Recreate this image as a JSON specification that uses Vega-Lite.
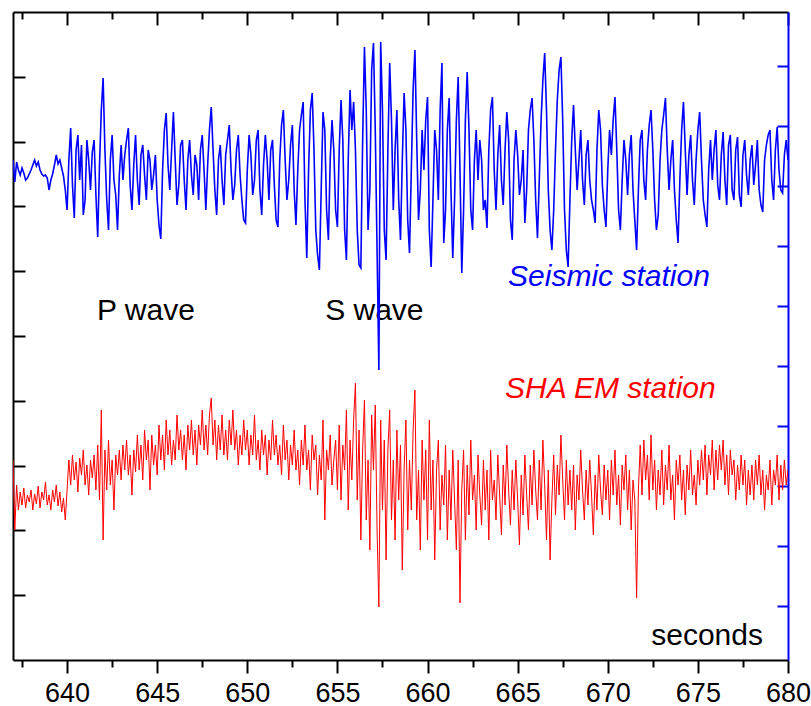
{
  "$schema": "https://vega.github.io/schema/vega-lite/v6.json",
  "width": 775,
  "height": 648,
  "autosize": {"type": "none"},
  "padding": {"left": 13, "top": 12, "right": 23, "bottom": 46},
  "background": "white",
  "config": {"view": {"stroke": null}, "font": "Liberation Sans"},
  "datasets": {
    "wave": [
{"t":637.0,"s":10,"e":20},{"t":637.1,"s":-12,"e":-50},{"t":637.2,"s":8,"e":-5},{"t":637.3,"s":0,"e":-30},{"t":637.4,"s":-5,"e":-12},{"t":637.5,"s":2,"e":-25},{"t":637.6,"s":-3,"e":-8},{"t":637.7,"s":-10,"e":-28},{"t":637.8,"s":-8,"e":-15},{"t":637.9,"s":-4,"e":-22},
{"t":638.0,"s":0,"e":-10},{"t":638.1,"s":5,"e":-30},{"t":638.2,"s":10,"e":-14},{"t":638.3,"s":4,"e":-24},{"t":638.4,"s":8,"e":-6},{"t":638.5,"s":0,"e":-28},{"t":638.6,"s":-4,"e":-12},{"t":638.7,"s":-6,"e":-20},{"t":638.8,"s":-5,"e":-2},{"t":638.9,"s":-8,"e":-25},
{"t":639.0,"s":-20,"e":-15},{"t":639.1,"s":-10,"e":-30},{"t":639.2,"s":-4,"e":-10},{"t":639.3,"s":5,"e":-22},{"t":639.4,"s":15,"e":-5},{"t":639.5,"s":6,"e":-26},{"t":639.6,"s":10,"e":-12},{"t":639.7,"s":2,"e":-32},{"t":639.8,"s":-6,"e":-18},{"t":639.9,"s":-20,"e":-40},
{"t":640.0,"s":-40,"e":-10},{"t":640.1,"s":10,"e":20},{"t":640.2,"s":42,"e":-5},{"t":640.3,"s":-15,"e":25},{"t":640.4,"s":-48,"e":0},{"t":640.5,"s":20,"e":18},{"t":640.6,"s":35,"e":-12},{"t":640.7,"s":-10,"e":22},{"t":640.8,"s":25,"e":5},{"t":640.9,"s":-45,"e":30},
{"t":641.0,"s":-30,"e":-5},{"t":641.1,"s":30,"e":15},{"t":641.2,"s":10,"e":-15},{"t":641.3,"s":-20,"e":20},{"t":641.4,"s":18,"e":2},{"t":641.5,"s":30,"e":25},{"t":641.6,"s":-25,"e":-10},{"t":641.7,"s":-67,"e":35},{"t":641.8,"s":5,"e":-20},{"t":641.9,"s":60,"e":70},
{"t":642.0,"s":92,"e":-60},{"t":642.1,"s":20,"e":30},{"t":642.2,"s":-30,"e":-10},{"t":642.3,"s":-60,"e":40},{"t":642.4,"s":10,"e":-5},{"t":642.5,"s":35,"e":20},{"t":642.6,"s":-10,"e":-30},{"t":642.7,"s":-25,"e":25},{"t":642.8,"s":-60,"e":5},{"t":642.9,"s":-5,"e":30},
{"t":643.0,"s":25,"e":0},{"t":643.1,"s":-10,"e":35},{"t":643.2,"s":15,"e":10},{"t":643.3,"s":30,"e":40},{"t":643.4,"s":42,"e":5},{"t":643.5,"s":-15,"e":25},{"t":643.6,"s":-40,"e":-15},{"t":643.7,"s":5,"e":30},{"t":643.8,"s":35,"e":8},{"t":643.9,"s":-10,"e":45},
{"t":644.0,"s":-35,"e":10},{"t":644.1,"s":15,"e":35},{"t":644.2,"s":25,"e":0},{"t":644.3,"s":-5,"e":50},{"t":644.4,"s":-30,"e":20},{"t":644.5,"s":20,"e":40},{"t":644.6,"s":10,"e":-10},{"t":644.7,"s":-20,"e":45},{"t":644.8,"s":-5,"e":15},{"t":644.9,"s":15,"e":35},
{"t":645.0,"s":-30,"e":5},{"t":645.1,"s":-55,"e":55},{"t":645.2,"s":-69,"e":20},{"t":645.3,"s":0,"e":45},{"t":645.4,"s":40,"e":10},{"t":645.5,"s":57,"e":60},{"t":645.6,"s":5,"e":25},{"t":645.7,"s":-20,"e":50},{"t":645.8,"s":20,"e":15},{"t":645.9,"s":58,"e":40},
{"t":646.0,"s":10,"e":20},{"t":646.1,"s":-35,"e":65},{"t":646.2,"s":-15,"e":30},{"t":646.3,"s":25,"e":50},{"t":646.4,"s":30,"e":20},{"t":646.5,"s":-10,"e":45},{"t":646.6,"s":-40,"e":10},{"t":646.7,"s":10,"e":55},{"t":646.8,"s":30,"e":30},{"t":646.9,"s":-5,"e":60},
{"t":647.0,"s":-25,"e":25},{"t":647.1,"s":15,"e":50},{"t":647.2,"s":5,"e":15},{"t":647.3,"s":-30,"e":55},{"t":647.4,"s":20,"e":35},{"t":647.5,"s":35,"e":70},{"t":647.6,"s":0,"e":30},{"t":647.7,"s":-40,"e":55},{"t":647.8,"s":5,"e":25},{"t":647.9,"s":40,"e":65},
{"t":648.0,"s":63,"e":82},{"t":648.1,"s":20,"e":35},{"t":648.2,"s":-20,"e":60},{"t":648.3,"s":-45,"e":20},{"t":648.4,"s":10,"e":55},{"t":648.5,"s":25,"e":30},{"t":648.6,"s":-10,"e":65},{"t":648.7,"s":-35,"e":25},{"t":648.8,"s":15,"e":50},{"t":648.9,"s":30,"e":20},
{"t":649.0,"s":45,"e":60},{"t":649.1,"s":0,"e":35},{"t":649.2,"s":-30,"e":70},{"t":649.3,"s":-15,"e":30},{"t":649.4,"s":20,"e":50},{"t":649.5,"s":35,"e":15},{"t":649.6,"s":-5,"e":45},{"t":649.7,"s":-30,"e":25},{"t":649.8,"s":-50,"e":60},{"t":649.9,"s":-53,"e":30},
{"t":650.0,"s":0,"e":50},{"t":650.1,"s":35,"e":15},{"t":650.2,"s":15,"e":45},{"t":650.3,"s":-25,"e":25},{"t":650.4,"s":-10,"e":65},{"t":650.5,"s":30,"e":20},{"t":650.6,"s":40,"e":40},{"t":650.7,"s":-20,"e":10},{"t":650.8,"s":-45,"e":50},{"t":650.9,"s":5,"e":25},
{"t":651.0,"s":35,"e":45},{"t":651.1,"s":10,"e":5},{"t":651.2,"s":-30,"e":40},{"t":651.3,"s":20,"e":20},{"t":651.4,"s":30,"e":60},{"t":651.5,"s":-15,"e":25},{"t":651.6,"s":-50,"e":45},{"t":651.7,"s":-57,"e":15},{"t":651.8,"s":10,"e":35},{"t":651.9,"s":45,"e":5},
{"t":652.0,"s":60,"e":55},{"t":652.1,"s":10,"e":20},{"t":652.2,"s":-30,"e":40},{"t":652.3,"s":-10,"e":0},{"t":652.4,"s":25,"e":35},{"t":652.5,"s":45,"e":15},{"t":652.6,"s":-20,"e":50},{"t":652.7,"s":-55,"e":10},{"t":652.8,"s":0,"e":30},{"t":652.9,"s":40,"e":-5},
{"t":653.0,"s":55,"e":40},{"t":653.1,"s":68,"e":15},{"t":653.2,"s":-30,"e":55},{"t":653.3,"s":-88,"e":10},{"t":653.4,"s":0,"e":30},{"t":653.5,"s":60,"e":-10},{"t":653.6,"s":77,"e":45},{"t":653.7,"s":20,"e":20},{"t":653.8,"s":-60,"e":35},{"t":653.9,"s":-85,"e":-15},
{"t":654.0,"s":-100,"e":25},{"t":654.1,"s":-20,"e":0},{"t":654.2,"s":58,"e":60},{"t":654.3,"s":40,"e":-40},{"t":654.4,"s":-40,"e":30},{"t":654.5,"s":-70,"e":10},{"t":654.6,"s":10,"e":45},{"t":654.7,"s":50,"e":-5},{"t":654.8,"s":20,"e":20},{"t":654.9,"s":-40,"e":40},
{"t":655.0,"s":-57,"e":-10},{"t":655.1,"s":20,"e":55},{"t":655.2,"s":70,"e":-20},{"t":655.3,"s":30,"e":35},{"t":655.4,"s":-60,"e":10},{"t":655.5,"s":-90,"e":70},{"t":655.6,"s":10,"e":-30},{"t":655.7,"s":80,"e":40},{"t":655.8,"s":40,"e":0},{"t":655.9,"s":68,"e":60},
{"t":656.0,"s":20,"e":97},{"t":656.1,"s":-60,"e":-20},{"t":656.2,"s":-95,"e":50},{"t":656.3,"s":-98,"e":-60},{"t":656.4,"s":30,"e":30},{"t":656.5,"s":123,"e":80},{"t":656.6,"s":60,"e":-40},{"t":656.7,"s":-60,"e":20},{"t":656.8,"s":-20,"e":-70},{"t":656.9,"s":100,"e":65},
{"t":657.0,"s":127,"e":10},{"t":657.1,"s":40,"e":75},{"t":657.2,"s":-80,"e":-50},{"t":657.3,"s":-200,"e":-127},{"t":657.4,"s":128,"e":60},{"t":657.5,"s":60,"e":-30},{"t":657.6,"s":-60,"e":40},{"t":657.7,"s":-90,"e":-80},{"t":657.8,"s":20,"e":30},{"t":657.9,"s":107,"e":70},
{"t":658.0,"s":50,"e":-40},{"t":658.1,"s":-40,"e":20},{"t":658.2,"s":20,"e":-60},{"t":658.3,"s":60,"e":50},{"t":658.4,"s":-30,"e":-20},{"t":658.5,"s":-70,"e":35},{"t":658.6,"s":10,"e":-90},{"t":658.7,"s":77,"e":10},{"t":658.8,"s":40,"e":60},{"t":658.9,"s":-50,"e":-50},
{"t":659.0,"s":-83,"e":20},{"t":659.1,"s":0,"e":-30},{"t":659.2,"s":80,"e":50},{"t":659.3,"s":120,"e":90},{"t":659.4,"s":30,"e":-40},{"t":659.5,"s":-50,"e":10},{"t":659.6,"s":-20,"e":-70},{"t":659.7,"s":40,"e":40},{"t":659.8,"s":0,"e":-20},{"t":659.9,"s":50,"e":30},
{"t":660.0,"s":73,"e":-60},{"t":660.1,"s":-60,"e":60},{"t":660.2,"s":-97,"e":-30},{"t":660.3,"s":-30,"e":20},{"t":660.4,"s":40,"e":-80},{"t":660.5,"s":20,"e":10},{"t":660.6,"s":-30,"e":40},{"t":660.7,"s":60,"e":-50},{"t":660.8,"s":107,"e":5},{"t":660.9,"s":-73,"e":-25},
{"t":661.0,"s":-40,"e":35},{"t":661.1,"s":40,"e":-60},{"t":661.2,"s":72,"e":10},{"t":661.3,"s":-20,"e":-40},{"t":661.4,"s":-88,"e":30},{"t":661.5,"s":-30,"e":-20},{"t":661.6,"s":50,"e":-70},{"t":661.7,"s":93,"e":20},{"t":661.8,"s":0,"e":-123},{"t":661.9,"s":-103,"e":-10},
{"t":662.0,"s":-40,"e":30},{"t":662.1,"s":50,"e":-60},{"t":662.2,"s":98,"e":15},{"t":662.3,"s":40,"e":-35},{"t":662.4,"s":-40,"e":40},{"t":662.5,"s":-60,"e":-20},{"t":662.6,"s":10,"e":5},{"t":662.7,"s":40,"e":-50},{"t":662.8,"s":-10,"e":25},{"t":662.9,"s":30,"e":-15},
{"t":663.0,"s":10,"e":-45},{"t":663.1,"s":-40,"e":20},{"t":663.2,"s":-30,"e":-30},{"t":663.3,"s":-58,"e":10},{"t":663.4,"s":20,"e":-60},{"t":663.5,"s":60,"e":30},{"t":663.6,"s":73,"e":-20},{"t":663.7,"s":0,"e":0},{"t":663.8,"s":-40,"e":-40},{"t":663.9,"s":15,"e":25},
{"t":664.0,"s":45,"e":-15},{"t":664.1,"s":-10,"e":-55},{"t":664.2,"s":-35,"e":15},{"t":664.3,"s":20,"e":-25},{"t":664.4,"s":58,"e":35},{"t":664.5,"s":30,"e":-10},{"t":664.6,"s":-50,"e":-45},{"t":664.7,"s":-70,"e":10},{"t":664.8,"s":10,"e":-30},{"t":664.9,"s":40,"e":20},
{"t":665.0,"s":15,"e":-20},{"t":665.1,"s":-25,"e":-65},{"t":665.2,"s":-10,"e":5},{"t":665.3,"s":20,"e":-35},{"t":665.4,"s":-53,"e":25},{"t":665.5,"s":-20,"e":-15},{"t":665.6,"s":40,"e":-50},{"t":665.7,"s":60,"e":15},{"t":665.8,"s":72,"e":-25},{"t":665.9,"s":30,"e":30},
{"t":666.0,"s":-30,"e":-10},{"t":666.1,"s":-68,"e":-40},{"t":666.2,"s":-10,"e":20},{"t":666.3,"s":50,"e":-30},{"t":666.4,"s":90,"e":40},{"t":666.5,"s":117,"e":-5},{"t":666.6,"s":60,"e":-60},{"t":666.7,"s":-20,"e":10},{"t":666.8,"s":-60,"e":-80},{"t":666.9,"s":-80,"e":-20},
{"t":667.0,"s":-40,"e":25},{"t":667.1,"s":20,"e":-35},{"t":667.2,"s":70,"e":15},{"t":667.3,"s":100,"e":-15},{"t":667.4,"s":113,"e":45},{"t":667.5,"s":50,"e":0},{"t":667.6,"s":-40,"e":-40},{"t":667.7,"s":-80,"e":20},{"t":667.8,"s":-97,"e":-25},{"t":667.9,"s":-30,"e":10},
{"t":668.0,"s":30,"e":-30},{"t":668.1,"s":65,"e":15},{"t":668.2,"s":20,"e":-50},{"t":668.3,"s":-20,"e":5},{"t":668.4,"s":10,"e":-20},{"t":668.5,"s":40,"e":30},{"t":668.6,"s":-10,"e":-10},{"t":668.7,"s":-35,"e":-40},{"t":668.8,"s":15,"e":10},{"t":668.9,"s":30,"e":-25},
{"t":669.0,"s":-10,"e":20},{"t":669.1,"s":-30,"e":-15},{"t":669.2,"s":-40,"e":-55},{"t":669.3,"s":-53,"e":5},{"t":669.4,"s":20,"e":-30},{"t":669.5,"s":60,"e":25},{"t":669.6,"s":40,"e":-10},{"t":669.7,"s":-15,"e":-35},{"t":669.8,"s":-40,"e":15},{"t":669.9,"s":-57,"e":-20},
{"t":670.0,"s":0,"e":10},{"t":670.1,"s":40,"e":-40},{"t":670.2,"s":15,"e":20},{"t":670.3,"s":50,"e":-15},{"t":670.4,"s":73,"e":30},{"t":670.5,"s":20,"e":-25},{"t":670.6,"s":-40,"e":5},{"t":670.7,"s":-60,"e":-45},{"t":670.8,"s":-10,"e":15},{"t":670.9,"s":30,"e":-10},
{"t":671.0,"s":10,"e":25},{"t":671.1,"s":-25,"e":-30},{"t":671.2,"s":15,"e":10},{"t":671.3,"s":35,"e":-50},{"t":671.4,"s":-20,"e":0},{"t":671.5,"s":-50,"e":-20},{"t":671.6,"s":-80,"e":-118},{"t":671.7,"s":-20,"e":-10},{"t":671.8,"s":30,"e":35},{"t":671.9,"s":40,"e":-15},
{"t":672.0,"s":-10,"e":40},{"t":672.1,"s":-30,"e":0},{"t":672.2,"s":20,"e":25},{"t":672.3,"s":45,"e":-20},{"t":672.4,"s":60,"e":45},{"t":672.5,"s":20,"e":-10},{"t":672.6,"s":-30,"e":20},{"t":672.7,"s":-60,"e":-30},{"t":672.8,"s":-45,"e":10},{"t":672.9,"s":10,"e":-15},
{"t":673.0,"s":40,"e":30},{"t":673.1,"s":55,"e":-25},{"t":673.2,"s":72,"e":15},{"t":673.3,"s":20,"e":-10},{"t":673.4,"s":-20,"e":35},{"t":673.5,"s":10,"e":-20},{"t":673.6,"s":30,"e":5},{"t":673.7,"s":-20,"e":-40},{"t":673.8,"s":-50,"e":20},{"t":673.9,"s":-73,"e":-5},
{"t":674.0,"s":-10,"e":25},{"t":674.1,"s":40,"e":-20},{"t":674.2,"s":68,"e":10},{"t":674.3,"s":20,"e":-35},{"t":674.4,"s":-25,"e":15},{"t":674.5,"s":15,"e":-10},{"t":674.6,"s":35,"e":30},{"t":674.7,"s":-10,"e":-15},{"t":674.8,"s":-35,"e":5},{"t":674.9,"s":10,"e":-25},
{"t":675.0,"s":40,"e":20},{"t":675.1,"s":58,"e":-5},{"t":675.2,"s":10,"e":30},{"t":675.3,"s":-30,"e":0},{"t":675.4,"s":-45,"e":35},{"t":675.5,"s":-57,"e":-15},{"t":675.6,"s":0,"e":25},{"t":675.7,"s":30,"e":5},{"t":675.8,"s":-10,"e":40},{"t":675.9,"s":20,"e":-10},
{"t":676.0,"s":40,"e":30},{"t":676.1,"s":-15,"e":0},{"t":676.2,"s":-30,"e":35},{"t":676.3,"s":15,"e":10},{"t":676.4,"s":38,"e":40},{"t":676.5,"s":-10,"e":-5},{"t":676.6,"s":-35,"e":25},{"t":676.7,"s":25,"e":-15},{"t":676.8,"s":35,"e":30},{"t":676.9,"s":-20,"e":5},
{"t":677.0,"s":-30,"e":20},{"t":677.1,"s":20,"e":-20},{"t":677.2,"s":33,"e":15},{"t":677.3,"s":-25,"e":-10},{"t":677.4,"s":-37,"e":25},{"t":677.5,"s":15,"e":-5},{"t":677.6,"s":30,"e":20},{"t":677.7,"s":-5,"e":-25},{"t":677.8,"s":-25,"e":10},{"t":677.9,"s":10,"e":-15},
{"t":678.0,"s":25,"e":15},{"t":678.1,"s":-15,"e":-20},{"t":678.2,"s":5,"e":20},{"t":678.3,"s":30,"e":-5},{"t":678.4,"s":-20,"e":25},{"t":678.5,"s":-35,"e":-15},{"t":678.6,"s":-42,"e":10},{"t":678.7,"s":10,"e":-30},{"t":678.8,"s":25,"e":5},{"t":678.9,"s":35,"e":-10},
{"t":679.0,"s":40,"e":20},{"t":679.1,"s":-10,"e":-25},{"t":679.2,"s":-30,"e":10},{"t":679.3,"s":20,"e":-5},{"t":679.4,"s":43,"e":25},{"t":679.5,"s":0,"e":-20},{"t":679.6,"s":-20,"e":15},{"t":679.7,"s":-23,"e":-10},{"t":679.8,"s":15,"e":20},{"t":679.9,"s":30,"e":-5},
{"t":680.0,"s":10,"e":10}
    ]
  },
  "resolve": {"scale": {"y": "independent"}, "axis": {"x": "independent", "y": "independent"}},
  "layer": [
    {
      "data": {"values": [{"label": "P wave", "t": 641.66, "e": 160}, {"label": "S wave", "t": 654.32, "e": 160}, {"label": "seconds", "t": 678.61, "e": -165}]},
      "transform": [{"filter": "datum.label !== 'seconds'"}],
      "mark": {"type": "text", "align": "left", "baseline": "alphabetic", "fontSize": 30, "font": "Liberation Sans", "color": "black"},
      "encoding": {
        "x": {"field": "t", "type": "quantitative", "scale": {"domain": [637, 680], "nice": false, "zero": false},
              "axis": {"orient": "top", "values": [640, 645, 650, 655, 660, 665, 670, 675, 680], "tickSize": -13, "tickWidth": 2, "tickColor": "black", "labels": false, "domain": true, "domainColor": "black", "domainWidth": 2, "grid": false, "title": null}},
        "y": {"field": "e", "type": "quantitative", "scale": {"domain": [-180, 468], "nice": false, "zero": false}, "axis": null},
        "text": {"field": "label"}
      }
    },
    {
      "data": {"values": [{"label": "seconds", "t": 678.61, "e": -165}]},
      "mark": {"type": "text", "align": "right", "baseline": "alphabetic", "fontSize": 30, "font": "Liberation Sans", "color": "black"},
      "encoding": {
        "x": {"field": "t", "type": "quantitative", "scale": {"domain": [637, 680], "nice": false, "zero": false},
              "axis": {"orient": "top", "values": [637.5, 642.5, 647.5, 652.5, 657.5, 662.5, 667.5, 672.5, 677.5], "tickSize": -7, "tickWidth": 2, "tickColor": "black", "labels": false, "domain": false, "grid": false, "title": null}},
        "y": {"field": "e", "type": "quantitative", "scale": {"domain": [-180, 468], "nice": false, "zero": false}, "axis": null},
        "text": {"field": "label"}
      }
    },
    {
      "data": {"values": [{"label": "Seismic station", "t": 664.47, "e": 194}]},
      "mark": {"type": "text", "align": "left", "baseline": "alphabetic", "fontSize": 30, "font": "Liberation Sans", "fontStyle": "italic", "color": "#0000ff"},
      "encoding": {
        "x": {"field": "t", "type": "quantitative", "scale": {"domain": [637, 680], "nice": false, "zero": false}, "axis": null},
        "y": {"field": "e", "type": "quantitative", "scale": {"domain": [-180, 468], "nice": false, "zero": false}, "axis": null},
        "text": {"field": "label"}
      }
    },
    {
      "data": {"values": [{"label": "SHA EM station", "t": 664.30, "e": 82}]},
      "mark": {"type": "text", "align": "left", "baseline": "alphabetic", "fontSize": 30, "font": "Liberation Sans", "fontStyle": "italic", "color": "#ff0000"},
      "encoding": {
        "x": {"field": "t", "type": "quantitative", "scale": {"domain": [637, 680], "nice": false, "zero": false}, "axis": null},
        "y": {"field": "e", "type": "quantitative", "scale": {"domain": [-180, 468], "nice": false, "zero": false}, "axis": null},
        "text": {"field": "label"}
      }
    },
    {
      "data": {"name": "wave"},
      "mark": {"type": "line", "color": "#ff0000", "strokeWidth": 1, "clip": true},
      "encoding": {
        "x": {"field": "t", "type": "quantitative", "scale": {"domain": [637, 680], "nice": false, "zero": false},
              "axis": {"orient": "bottom", "values": [637.5, 642.5, 647.5, 652.5, 657.5, 662.5, 667.5, 672.5, 677.5], "tickSize": 7, "tickWidth": 2, "tickColor": "black", "labels": false, "domain": false, "grid": false, "title": null}},
        "y": {"field": "e", "type": "quantitative", "scale": {"domain": [-180, 468], "nice": false, "zero": false},
              "axis": {"orient": "left", "values": [403.2, 338.4, 273.6, 208.8, 144, 79.2, 14.4, -50.4, -115.2], "tickSize": -12, "tickWidth": 2, "tickColor": "black", "labels": false, "domain": true, "domainColor": "black", "domainWidth": 2, "grid": false, "title": null}}
      }
    },
    {
      "data": {"name": "wave"},
      "mark": {"type": "line", "color": "#0000ff", "strokeWidth": 1.6, "clip": true},
      "encoding": {
        "x": {"field": "t", "type": "quantitative", "scale": {"domain": [637, 680], "nice": false, "zero": false},
              "axis": {"orient": "bottom", "values": [640, 645, 650, 655, 660, 665, 670, 675, 680], "tickSize": 13, "tickWidth": 2, "tickColor": "black", "labels": true, "labelFont": "Liberation Sans Narrow, Liberation Sans", "labelFontSize": 27, "labelColor": "black", "labelPadding": 7, "labelFlush": false, "labelOverlap": false, "domain": true, "domainColor": "black", "domainWidth": 2, "grid": false, "title": null}},
        "y": {"field": "s", "type": "quantitative", "scale": {"domain": [-490, 158], "nice": false, "zero": false},
              "axis": {"orient": "right", "values": [104, 44, -16, -76, -136, -196, -256, -316, -376, -436], "tickSize": -11, "tickWidth": 2, "tickColor": "#0000ff", "labels": false, "domain": true, "domainColor": "#0000ff", "domainWidth": 2, "grid": false, "title": null}}
      }
    }
  ]
}
